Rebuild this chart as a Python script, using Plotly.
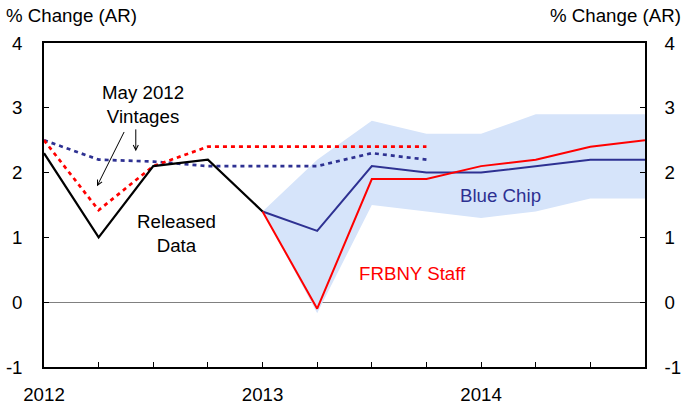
import plotly.graph_objects as go

quarters = list(range(12))
year_ticks = [0, 4, 8]
year_labels = ["2012", "2013", "2014"]
y_ticks = [4, 3, 2, 1, 0, -1]
y_labels = ["4", "3", "2", "1", "0", "-1"]

released = [2.3, 1.0, 2.1, 2.2, 1.4]
frbny = [None, None, None, None, 1.4, -0.1, 1.9, 1.9, 2.1, 2.2, 2.4, 2.5]
bluechip = [None, None, None, None, 1.4, 1.1, 2.1, 2.0, 2.0, 2.1, 2.2, 2.2]
band_hi = [1.4, 2.2, 2.8, 2.6, 2.6, 2.9, 2.9, 2.9]
band_lo = [1.4, -0.17, 1.5, 1.4, 1.3, 1.4, 1.6, 1.6]
may_frbny = [2.5, 1.42, 2.1, 2.4, 2.4, 2.4, 2.4, 2.4]
may_bc = [2.5, 2.2, 2.17, 2.1, 2.1, 2.1, 2.3, 2.2]

RED = "#ff0000"
NAVY = "#2e3192"
BAND = "#d6e4fa"
FONT = "Liberation Sans, Arial, sans-serif"
FS = 18.7

fig = go.Figure()
fig.add_trace(go.Scatter(x=quarters[4:], y=band_hi, mode="lines",
                         line=dict(width=0, color=BAND), hoverinfo="skip", showlegend=False))
fig.add_trace(go.Scatter(x=quarters[4:], y=band_lo, mode="lines", fill="tonexty",
                         fillcolor=BAND, line=dict(width=0, color=BAND),
                         hoverinfo="skip", showlegend=False))
fig.add_trace(go.Scatter(x=quarters[:8], y=may_bc, mode="lines",
                         line=dict(color=NAVY, width=2.7, dash="4px,4px"), showlegend=False))
fig.add_trace(go.Scatter(x=quarters[:8], y=may_frbny, mode="lines",
                         line=dict(color=RED, width=2.7, dash="4px,4px"), showlegend=False))
fig.add_trace(go.Scatter(x=quarters, y=bluechip, mode="lines",
                         line=dict(color=NAVY, width=2), showlegend=False))
fig.add_trace(go.Scatter(x=quarters, y=frbny, mode="lines",
                         line=dict(color=RED, width=2), showlegend=False))
fig.add_trace(go.Scatter(x=quarters[:5], y=released, mode="lines",
                         line=dict(color="black", width=2.2), showlegend=False))
# dummy trace for right axis
fig.add_trace(go.Scatter(x=[0], y=[0], yaxis="y2", mode="markers",
                         marker=dict(opacity=0), hoverinfo="skip", showlegend=False))

tickfont = dict(family=FONT, size=FS, color="black")
fig.update_layout(
    width=683, height=404,
    margin=dict(l=44, r=38, t=43, b=37),
    paper_bgcolor="white", plot_bgcolor="white",
    font=dict(family=FONT, size=FS, color="black"),
    xaxis=dict(range=[0, 11], tickvals=year_ticks, ticktext=year_labels,
               ticks="inside", ticklen=5, tickcolor="black", tickwidth=1,
               minor=dict(tickvals=quarters, ticks="inside", ticklen=5, tickcolor="black"),
               showgrid=False, zeroline=False, showline=True, linecolor="black",
               linewidth=1.5, mirror=True, tickfont=tickfont, ticklabelstandoff=10,
               automargin=False),
    yaxis=dict(range=[-1, 4], tickvals=y_ticks, ticktext=y_labels,
               ticks="inside", ticklen=5, tickcolor="black",
               showgrid=False, zeroline=True, zerolinecolor="#808080", zerolinewidth=1,
               showline=True, linecolor="black", linewidth=1.5,
               tickfont=tickfont, ticklabelstandoff=16, automargin=False),
    yaxis2=dict(range=[-1, 4], tickvals=y_ticks, ticktext=y_labels, overlaying="y",
                side="right", ticks="inside", ticklen=5, tickcolor="black",
                showgrid=False, zeroline=False, showline=True, linecolor="black",
                linewidth=1.5, tickfont=tickfont, ticklabelstandoff=14, automargin=False),
)

ann_font = dict(family=FONT, size=FS, color="black")
fig.add_annotation(text="% Change (AR)", xref="paper", yref="paper", x=-0.066, y=1.086,
                   xanchor="left", yanchor="middle", showarrow=False, font=ann_font)
fig.add_annotation(text="% Change (AR)", xref="paper", yref="paper", x=1.063, y=1.086,
                   xanchor="right", yanchor="middle", showarrow=False, font=ann_font)
fig.add_annotation(text="May 2012<br>Vintages", x=1.81, y=3.05, showarrow=False,
                   font=ann_font, align="center")
fig.add_annotation(text="Released<br>Data", x=2.43, y=1.06, showarrow=False,
                   font=ann_font, align="center")
fig.add_annotation(text="Blue Chip", x=8.35, y=1.65, showarrow=False,
                   font=dict(family=FONT, size=FS, color=NAVY))
fig.add_annotation(text="FRBNY Staff", x=6.75, y=0.45, showarrow=False,
                   font=dict(family=FONT, size=FS, color=RED))
fig.add_annotation(text="", x=0.97, y=1.79, ax=1.48, ay=2.65, axref="x", ayref="y",
                   showarrow=True, arrowhead=5, arrowsize=1, arrowwidth=1, arrowcolor="black")
fig.add_annotation(text="", x=1.68, y=2.33, ax=1.68, ay=2.69, axref="x", ayref="y",
                   showarrow=True, arrowhead=5, arrowsize=1, arrowwidth=1, arrowcolor="black")

fig.write_html("out.html", config={"displayModeBar": False},
               post_script="document.body.style.margin='0px';document.body.style.overflow='hidden';")
